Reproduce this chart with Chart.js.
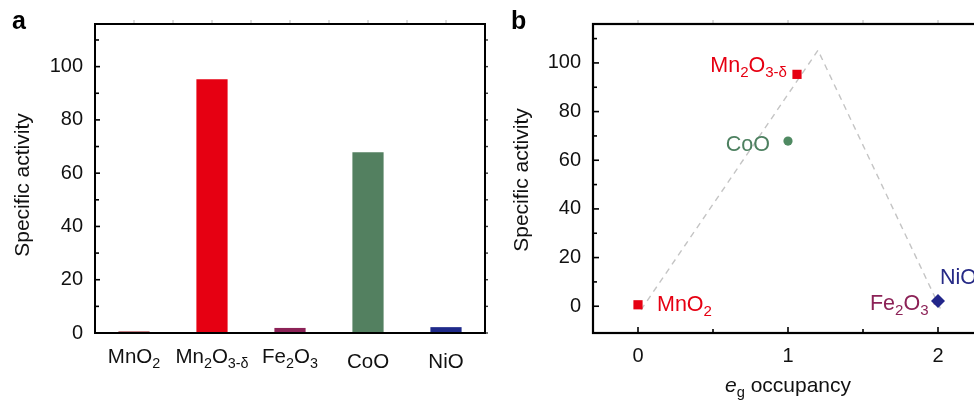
<!DOCTYPE html>
<html><head><meta charset="utf-8">
<script src="https://cdn.jsdelivr.net/npm/chart.js@4.4.1/dist/chart.umd.min.js"></script>
<style>
html,body{margin:0;padding:0;background:#fff;overflow:hidden;}
#wrap{position:relative;width:974px;height:400px;overflow:hidden;background:#fff;}
#ca{position:absolute;left:0;top:0;}
#cb{position:absolute;left:490px;top:0;}
</style></head><body>
<div id="wrap"><canvas id="ca" width="490" height="400"></canvas><canvas id="cb" width="500" height="400"></canvas></div>
<script>
// ---- data ----
const categories = ['MnO_2', 'Mn_2O_{3-δ}', 'Fe_2O_3', 'CoO', 'NiO'];
const activity = [0.6, 95.3, 1.9, 67.9, 2.2];
const egOccupancy = [0, 1.06, 1.99, 1.0, 2.0];
const yTicksA = [0, 20, 40, 60, 80, 100];
const yTicksB = [0, 20, 40, 60, 80, 100];
const xTicksB = [0, 1, 2];
const trendX = [0.02, 1.2, 2.02];
const trendY = [-1.5, 105.2, -1.5];

// ---- styles ----
const barColors = ['#9a2a30', '#e60012', '#8c2257', '#538060', '#1f2a8a'];
const markerColors = ['#e60012', '#e60012', '#8c2257', '#4f8a62', '#22268a'];
const labelColors = ['#e60012', '#e60012', '#8c2257', '#4d8060', '#262a86'];
const markerStyles = ['rect', 'rect', 'rect', 'circle', 'rectRot'];
const markerRadii = [6.5, 6.5, 4, 4.6, 7];
// label offsets from point (dx, dy, align)
const labelOffsets = [[19, 6.5, 'left'], [-10, -2, 'right'], [-8, 8.5, 'right'], [-18, 10, 'right'], [2, -16.5, 'left']];

const FONT = '"Liberation Sans", Arial, Helvetica, sans-serif';
Chart.defaults.font.family = FONT;
Chart.defaults.font.size = 20;
Chart.defaults.color = '#111';

function parseRich(s) {
  const parts = []; let i = 0, buf = '';
  while (i < s.length) {
    if (s[i] === '_') {
      if (buf) { parts.push({ t: buf }); buf = ''; }
      i++; let t;
      if (s[i] === '{') { const j = s.indexOf('}', i); t = s.slice(i + 1, j); i = j + 1; }
      else { t = s[i]; i++; }
      parts.push({ t, sub: true });
    } else { buf += s[i]; i++; }
  }
  if (buf) parts.push({ t: buf });
  return parts;
}
function drawRich(ctx, parts, x, y, align, color, size) {
  const sub = size * 0.7, off = size * 0.23;
  ctx.save();
  ctx.fillStyle = color; ctx.textBaseline = 'alphabetic'; ctx.textAlign = 'left';
  const fontOf = p => (p.italic ? 'italic ' : '') + (p.sub ? sub : size) + 'px ' + FONT;
  let w = 0;
  parts.forEach(p => { ctx.font = fontOf(p); w += ctx.measureText(p.t).width; });
  let cx = align === 'center' ? x - w / 2 : align === 'right' ? x - w : x;
  parts.forEach(p => { ctx.font = fontOf(p); ctx.fillText(p.t, cx, p.sub ? y + off : y); cx += ctx.measureText(p.t).width; });
  ctx.restore();
}
function seg(ctx, x1, y1, x2, y2, color, w) {
  ctx.save(); ctx.strokeStyle = color; ctx.lineWidth = w; ctx.beginPath();
  ctx.moveTo(x1, y1); ctx.lineTo(x2, y2); ctx.stroke(); ctx.restore();
}
function yTitle(ctx, text, x, y) {
  ctx.save(); ctx.translate(x, y); ctx.rotate(-Math.PI / 2);
  ctx.font = '21px ' + FONT; ctx.fillStyle = '#111'; ctx.textAlign = 'center'; ctx.textBaseline = 'middle';
  ctx.fillText(text, 0, 0); ctx.restore();
}
function panelLetter(ctx, t, x, y) {
  ctx.save(); ctx.font = 'bold 25px ' + FONT; ctx.fillStyle = '#000'; ctx.textBaseline = 'alphabetic';
  ctx.fillText(t, x, y); ctx.restore();
}

const frameA = {
  id: 'frameA',
  afterDraw(chart) {
    const ctx = chart.ctx, a = chart.chartArea, ys = chart.scales.y, xs = chart.scales.x;
    for (let i = -0.5; i <= categories.length - 0.5; i += 0.5) {
      const px = xs.getPixelForValue(i);
      if (px > a.left + 2 && px < a.right - 2) seg(ctx, px, a.top - 4, px, a.top, '#b8b8b8', 1);
    }
    for (let v = 0; v <= 110; v += 10) {
      const py = ys.getPixelForValue(v);
      const len = v % 20 === 0 ? 5 : 4;
      seg(ctx, a.left, py, a.left + len, py, '#000', 1.6);
      seg(ctx, a.right, py, a.right + 3, py, '#333', 1.4);
    }
    ctx.save(); ctx.strokeStyle = '#000'; ctx.lineWidth = 2;
    ctx.strokeRect(a.left, a.top, a.right - a.left, a.bottom - a.top); ctx.restore();
    categories.forEach((c, i) => {
      const parts = parseRich(c);
      const hasSub = parts.some(p => p.sub);
      drawRich(ctx, parts, xs.getPixelForValue(i), hasSub ? 363 : 368, 'center', '#111', 20.5);
    });
    yTitle(ctx, 'Specific activity', 23, 185);
    panelLetter(ctx, 'a', 12, 29);
  }
};

const frameB = {
  id: 'frameB',
  afterDraw(chart) {
    const ctx = chart.ctx, a = chart.chartArea, ys = chart.scales.y, xs = chart.scales.x;
    for (let v = 0; v <= 2; v += 0.5) {
      const px = xs.getPixelForValue(v);
      const len = v % 1 === 0 ? 6 : 4;
      seg(ctx, px, a.bottom, px, a.bottom - len, '#000', 1.6);
      seg(ctx, px, a.top - 4, px, a.top, '#b8b8b8', 1);
    }
    for (let v = 0; v <= 110; v += 10) {
      const py = ys.getPixelForValue(v);
      const len = v % 20 === 0 ? 6 : 4;
      seg(ctx, a.left, py, a.left + len, py, '#000', 1.6);
    }
    ctx.save(); ctx.strokeStyle = '#000'; ctx.lineWidth = 2.2;
    ctx.strokeRect(a.left, a.top, a.right - a.left, a.bottom - a.top); ctx.restore();
    categories.forEach((c, i) => {
      const px = xs.getPixelForValue(egOccupancy[i]);
      const py = ys.getPixelForValue(activity[i]);
      const o = labelOffsets[i];
      drawRich(ctx, parseRich(c), px + o[0], py + o[1], o[2], labelColors[i], 21.5);
    });
    yTitle(ctx, 'Specific activity', 32, 180);
    drawRich(ctx, [{ t: 'e', italic: true }, { t: 'g', sub: true }, { t: ' occupancy' }], 298, 392, 'center', '#111', 21);
    panelLetter(ctx, 'b', 21, 29);
  }
};

new Chart(document.getElementById('ca'), {
  type: 'bar',
  data: { labels: categories, datasets: [{ data: activity, backgroundColor: barColors, borderWidth: 0, barPercentage: 0.4, categoryPercentage: 1 }] },
  options: {
    responsive: false, animation: false, events: [],
    layout: { padding: { left: 0, top: 24, right: 5, bottom: 0 } },
    plugins: { legend: { display: false }, tooltip: { enabled: false } },
    scales: {
      x: { ticks: { display: false }, grid: { display: false, drawTicks: false }, border: { display: false }, afterFit(s) { s.height = 67; } },
      y: {
        min: 0, max: 116,
        afterBuildTicks(s) { s.ticks = yTicksA.map(v => ({ value: v })); },
        ticks: { padding: 12, color: '#111', font: { size: 20 } },
        grid: { display: false, drawTicks: false }, border: { display: false },
        afterFit(s) { s.width = 95; }
      }
    }
  },
  plugins: [frameA]
});

new Chart(document.getElementById('cb'), {
  type: 'scatter',
  data: {
    datasets: [
      { type: 'line', data: trendX.map((x, i) => ({ x, y: trendY[i] })), borderColor: '#c4c4c4', borderWidth: 1.4, borderDash: [6, 5], pointRadius: 0, fill: false, tension: 0, order: 2 },
      { type: 'scatter', data: egOccupancy.map((x, i) => ({ x, y: activity[i] })), pointStyle: markerStyles, pointRadius: markerRadii, backgroundColor: markerColors, borderColor: markerColors, borderWidth: 0, order: 1 }
    ]
  },
  options: {
    responsive: false, animation: false, events: [],
    layout: { padding: { left: 0, top: 24, right: 7, bottom: 0 } },
    plugins: { legend: { display: false }, tooltip: { enabled: false } },
    scales: {
      x: {
        type: 'linear', min: -0.3, max: 2.3,
        afterBuildTicks(s) { s.ticks = xTicksB.map(v => ({ value: v })); },
        ticks: { padding: 11, color: '#111', font: { size: 20 } },
        grid: { display: false, drawTicks: false }, border: { display: false },
        afterFit(s) { s.height = 67; }
      },
      y: {
        min: -11, max: 116,
        afterBuildTicks(s) { s.ticks = yTicksB.map(v => ({ value: v })); },
        ticks: { padding: 12, color: '#111', font: { size: 20 } },
        grid: { display: false, drawTicks: false }, border: { display: false },
        afterFit(s) { s.width = 103; }
      }
    }
  },
  plugins: [frameB]
});
</script></body></html>
